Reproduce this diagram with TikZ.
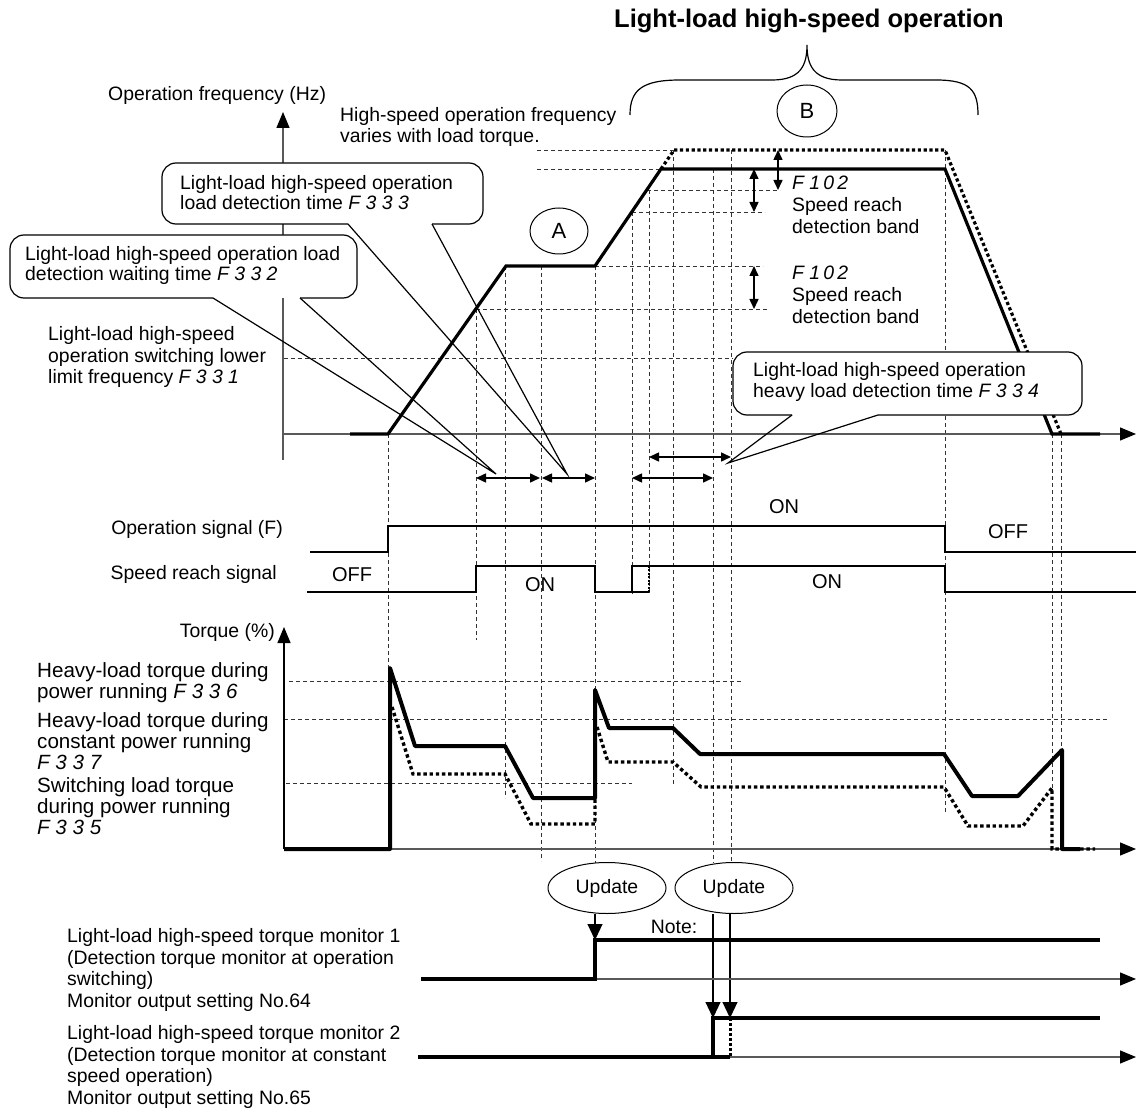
\documentclass[tikz,border=0pt]{standalone}
\usepackage{fontspec}
\setmainfont{Liberation Sans}
\usetikzlibrary{arrows.meta,shapes.geometric}

\newcommand{\parcode}[1]{{\itshape #1}}

\begin{document}
\begin{tikzpicture}[x=1pt,y=-1pt,font=\fontsize{19.4}{21.5}\selectfont,
  grid/.style={dash pattern=on 4pt off 3pt,line width=0.8pt,black!80},
  freq/.style={line width=3.2pt},
  fdots/.style={line width=3.2pt,dash pattern=on 3.2pt off 2.6pt},
  sig/.style={line width=2.4pt},
  trq/.style={line width=4pt,line join=round},
  tdots/.style={line width=3.4pt,dash pattern=on 3.4pt off 2.8pt},
  mon/.style={line width=4.5pt},
  axis/.style={line width=1.3pt,draw=black!65,-{Triangle[length=16pt,width=13pt,color=black]}},
  span/.style={line width=1.5pt,{Triangle[length=10pt,width=9pt]}-{Triangle[length=10pt,width=9pt]}},
  updarrow/.style={line width=1.2pt,-{Triangle[length=16pt,width=15pt]}},
  bubble/.style={line width=1.2pt},
  lbl/.style={anchor=west,align=left,inner sep=0pt},
  rlbl/.style={anchor=east,inner sep=0pt},
  ring/.style={ellipse,draw,line width=1pt,inner sep=0pt,font=\fontsize{22}{22}\selectfont},
  upd/.style={ellipse,draw,line width=1pt,minimum width=118pt,minimum height=51pt,inner sep=0pt}]
\useasboundingbox (0,0) rectangle (1136,1110);

% guide lines
\foreach \x/\a/\b in {388/434/668,476/309/640,505/266/798,541/266/861,595/266/863,632/212/594,649/190/594,673/150/785,713/169/863,731/150/863,945/150/813,1052/434/788,1061/434/750}
  \draw[grid] (\x,\a) -- (\x,\b);
\foreach \y/\a/\b in {150/537/674,169/537/661,190/647/780,212/632/765,266/595/763,309/476/768,358/284/733,681/289/743,719/284/1107,783/286/632}
  \draw[grid] (\a,\y) -- (\b,\y);

% frequency
\draw[axis] (283,460) -- (283,112);
\draw[axis] (283,434) -- (1136,434);
\draw[freq] (350,434) -- (388,434) -- (506,266) -- (595,266) -- (661,169) -- (945,169) -- (1052,434) -- (1100,434);
\draw[fdots] (661,169) -- (674,150) -- (945,150) -- (1061,434);
\node[lbl] (freqlbl) at (108,95) {Operation frequency (Hz)};
\node[lbl] (hsnote) at (340,127) {High-speed operation frequency\\varies with load torque.};

% bands
\draw[span] (754,169) -- (754,212);
\draw[span] (778,150) -- (778,190);
\draw[span] (754,266) -- (754,309);
\node[lbl,font=\fontsize{19.4}{22}\selectfont] (bandhi) at (792,205) {\parcode{F 1\,0\,2}\\Speed reach\\detection band};
\node[lbl,font=\fontsize{19.4}{22}\selectfont] (bandlo) at (792,295) {\parcode{F 1\,0\,2}\\Speed reach\\detection band};

% time spans
\draw[span] (476,478) -- (540,478);
\draw[span] (542,478) -- (595,478);
\draw[span] (632,478) -- (713,478);
\draw[span] (649,457) -- (731,457);

% brace and marks
\draw[line width=1.2pt] (630,115) .. controls (630,90) and (642,80) .. (680,80) -- (772,80) .. controls (800,80) and (807,66) .. (807,45) .. controls (807,66) and (814,80) .. (842,80) -- (936,80) .. controls (970,80) and (978,90) .. (978,115);
\node[font=\bfseries\fontsize{25.5}{27}\selectfont] (title) at (809,21) {Light-load high-speed operation};
\node[ring,minimum width=60pt,minimum height=52pt] (markb) at (807,111) {B};
\node[ring,minimum width=58pt,minimum height=46pt] (marka) at (559,231) {A};

% lower limit
\node[lbl] (f331) at (48,357) {Light-load high-speed\\operation switching lower\\limit frequency \parcode{F 3 3 1}};

% callouts
\fill[white,rounded corners=14pt] (162,163) rectangle (483,224);
\draw[bubble,rounded corners=14pt] (432,224) -- (483,224) -- (483,163) -- (162,163) -- (162,224) -- (348,224);
\draw[bubble] (348,224) -- (567,474) -- (432,224);
\node[lbl,font=\fontsize{19.4}{20}\selectfont] (f333) at (180,193) {Light-load high-speed operation\\load detection time \parcode{F 3 3 3}};

\fill[white,rounded corners=14pt] (10,235) rectangle (357,298);
\draw[bubble,rounded corners=14pt] (300,298) -- (357,298) -- (357,235) -- (10,235) -- (10,298) -- (213,298);
\draw[bubble] (213,298) -- (496,474) -- (300,298);
\node[lbl,font=\fontsize{19.4}{20}\selectfont] (f332) at (25,265) {Light-load high-speed operation load\\detection waiting time \parcode{F 3 3 2}};

\fill[white,rounded corners=14pt] (733,352) rectangle (1082,415);
\draw[bubble,rounded corners=14pt] (878,415) -- (1082,415) -- (1082,352) -- (733,352) -- (733,415) -- (792,415);
\draw[bubble] (792,415) -- (728,463) -- (878,415);
\node[lbl,font=\fontsize{19.4}{21}\selectfont] (f334) at (753,382) {Light-load high-speed operation\\heavy load detection time \parcode{F 3 3 4}};

% signals
\draw[sig] (310,552) -- (388,552) -- (388,526) -- (945,526) -- (945,552) -- (1136,552);
\draw[sig] (307,592) -- (476,592) -- (476,566) -- (595,566) -- (595,592) -- (649,592);
\draw[sig] (632,592) -- (632,566) -- (945,566) -- (945,592) -- (1136,592);
\draw[sig,dash pattern=on 2pt off 1.5pt] (649,592) -- (649,566);
\node[rlbl] (opsig) at (283,529) {Operation signal (F)};
\node[rlbl] (srsig) at (277,574) {Speed reach signal};
\node[font=\fontsize{20}{20}\selectfont] (opon) at (784,507) {ON};
\node[font=\fontsize{20}{20}\selectfont] (opoff) at (1008,532) {OFF};
\node[font=\fontsize{20}{20}\selectfont] (sroff) at (352,575) {OFF};
\node[font=\fontsize{20}{20}\selectfont] (sron) at (540,585) {ON};
\node[font=\fontsize{20}{20}\selectfont] (sronb) at (827,582) {ON};

% torque
\draw[axis,draw=black] (284,849) -- (284,627);
\draw[axis] (390,849) -- (1136,849);
\draw[trq] (284,849) -- (390,849) -- (390,668) -- (415,746) -- (505,746) -- (533,798) -- (595,798) -- (595,690) -- (609,728) -- (673,728) -- (700,754) -- (944,754) -- (972,796) -- (1018,796) -- (1062,750) -- (1062,849) -- (1080,849);
\draw[tdots] (392,707) -- (413,774) -- (505,774) -- (531,824) -- (595,824) -- (595,798);
\draw[tdots] (597,727) -- (608,762) -- (673,762) -- (701,787) -- (944,787) -- (968,826) -- (1023,826) -- (1052,788) -- (1052,849) -- (1095,849);
\node[rlbl] (trqlbl) at (275,632) {Torque (\%)};
\node[lbl,font=\fontsize{20.6}{21}\selectfont] (t336) at (37,683) {Heavy-load torque during\\power running \parcode{F 3 3 6}};
\node[lbl,font=\fontsize{20.6}{21}\selectfont] (t337) at (37,741) {Heavy-load torque during\\constant power running\\\parcode{F 3 3 7}};
\node[lbl,font=\fontsize{20.6}{21}\selectfont] (t335) at (37,806) {Switching load torque\\during power running\\\parcode{F 3 3 5}};

% monitors
\node[upd] (upda) at (607,888) {Update};
\node[upd] (updb) at (734,888) {Update};
\coordinate (mona) at (595,940);
\coordinate (monb) at (713,1018);
\coordinate (monc) at (730,1018);
\draw[updarrow] (mona |- upda.south) -- (mona);
\draw[updarrow] (monb |- updb.south) -- (monb);
\draw[updarrow] (monc |- updb.south) -- (monc);
\node (note) at (674,927) {Note:};
\draw[axis] (595,979) -- (1136,979);
\draw[axis] (730,1057) -- (1136,1057);
\draw[mon] (421,979) -- (595,979) -- (595,940) -- (1100,940);
\draw[mon] (418,1057) -- (730,1057);
\draw[mon] (713,1057) -- (713,1018) -- (1100,1018);
\draw[line width=3pt,dash pattern=on 3pt off 2pt] (730,1018) -- (730,1057);
\node[lbl] (mon1) at (67,970) {Light-load high-speed torque monitor 1\\(Detection torque monitor at operation\\switching)\\Monitor output setting No.64};
\node[lbl] (mon2) at (67,1067) {Light-load high-speed torque monitor 2\\(Detection torque monitor at constant\\speed operation)\\Monitor output setting No.65};
\end{tikzpicture}
\end{document}
